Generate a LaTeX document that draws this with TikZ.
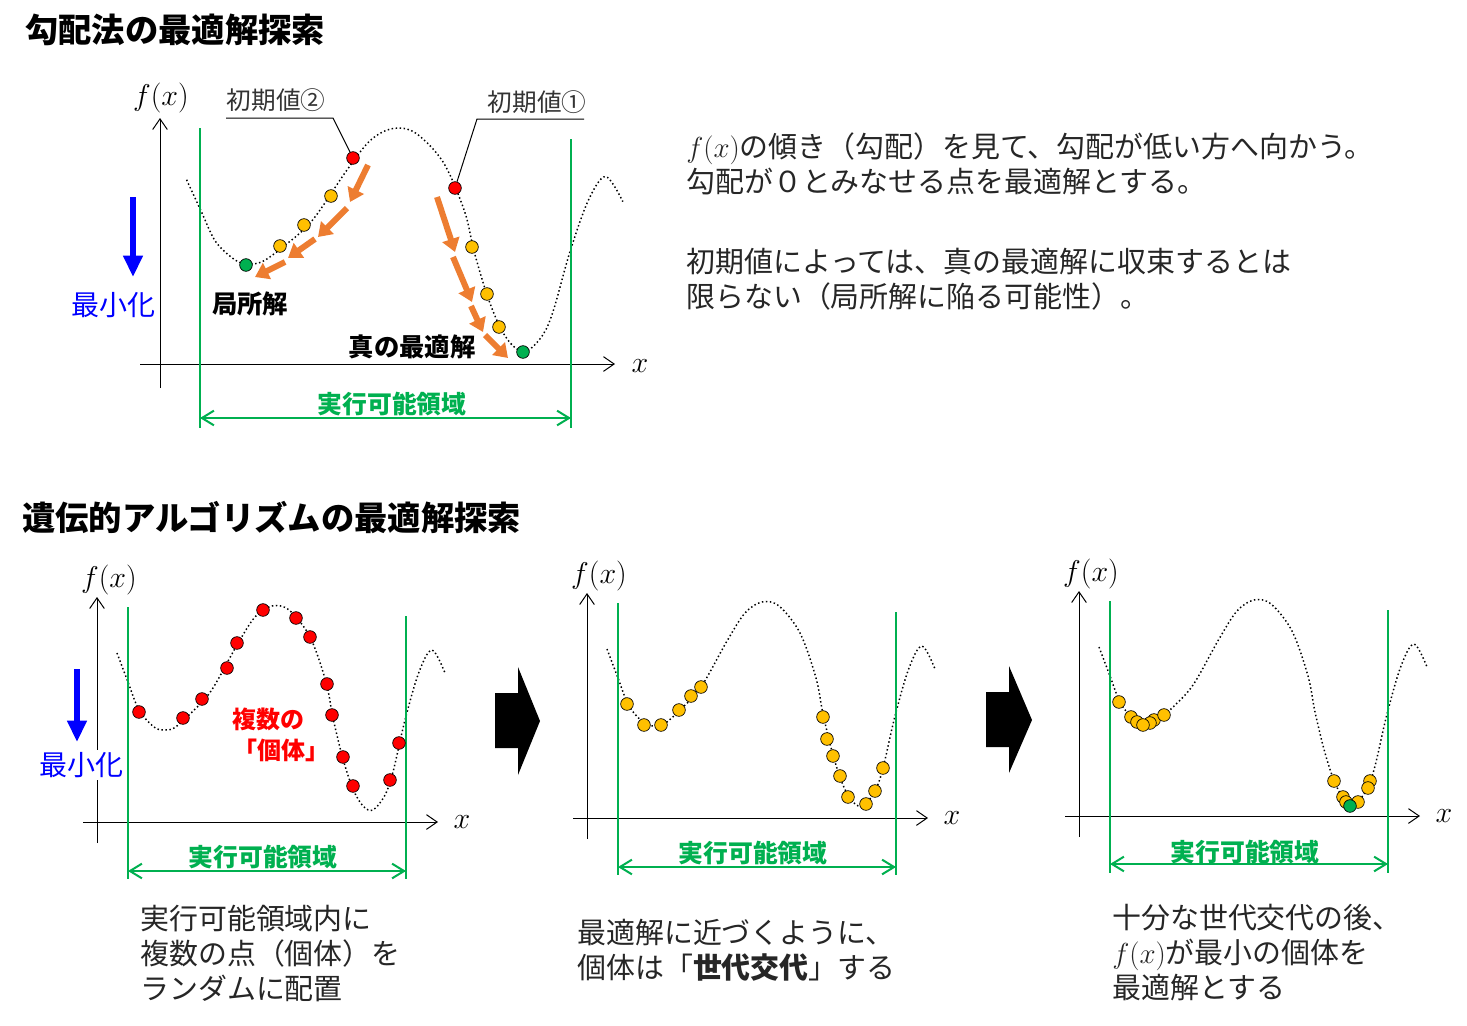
\RequirePackage{fix-cm}
\documentclass[tikz,border=0pt]{standalone}
\usepackage{fontspec}
\newfontfamily\jp{Noto Sans CJK JP}
\usetikzlibrary{arrows.meta}

\definecolor{okgreen}{HTML}{00B050}
\definecolor{stepor}{HTML}{ED7D31}
\definecolor{dotyellow}{HTML}{FFC000}

\def\dotsize{9.5pt}
\tikzstyle{ptdot} = [circle, draw=black, line width=0.5pt, inner sep=0pt, minimum size=\dotsize]
\tikzstyle{startdot} = [ptdot, fill=red]
\tikzstyle{movedot} = [ptdot, fill=dotyellow]
\tikzstyle{bestdot} = [ptdot, fill=okgreen]
\tikzstyle{axisline} = [line width=0.75pt, -{Straight Barb[length=8pt,width=11pt]}]
\tikzstyle{boundline} = [okgreen, line width=1.5pt]
\tikzstyle{spanarrow} = [okgreen, line width=1.5pt,
{Straight Barb[length=9pt,width=11pt]}-{Straight Barb[length=9pt,width=11pt]}]
\tikzstyle{fcurve} = [line width=1.1pt, dash pattern=on 1.1pt off 1.9pt]
\tikzstyle{stepdown} = [stepor, line width=4.5pt, -{Triangle[length=10pt,width=13pt]}]
\tikzstyle{minarrow} = [blue, line width=4.5pt, -{Triangle[length=16pt,width=14pt]}]
\tikzstyle{headline} = [font=\jp\bfseries\fontsize{25pt}{29pt}\selectfont, anchor=west, inner sep=0pt]
\tikzstyle{spanlbl} = [okgreen, font=\jp\bfseries\fontsize{18.6pt}{20pt}\selectfont]
\tikzstyle{boldlbl} = [font=\jp\bfseries\fontsize{19pt}{21pt}\selectfont]
\tikzstyle{redlbl} = [red, font=\jp\bfseries\fontsize{18pt}{21pt}\selectfont]
\tikzstyle{initlbl} = [text=black!80, font=\jp\fontsize{18.5pt}{21pt}\selectfont]
\tikzstyle{minlbl} = [blue, fill=white, inner sep=1.5pt, font=\jp\fontsize{21pt}{24pt}\selectfont]
\tikzstyle{mathlbl} = [font=\fontsize{22.5pt}{24pt}\selectfont]
\tikzstyle{notetext} = [text=black!85, align=left, anchor=west, inner sep=0pt,
font=\jp\fontsize{21.7pt}{26.25pt}\selectfont]
\tikzstyle{leader} = [line width=0.75pt]

% f(x), local to the origin of a panel
\def\costcurve{plot[smooth, tension=0.55] coordinates {(20,-169) (31,-140) (42,-112)
(57,-95) (67,-92) (77,-94) (92,-107) (114,-131) (140,-177) (158,-205) (175,-216)
(192,-212) (213,-185) (229,-140) (236,-104) (246,-63) (256,-33) (266,-16) (276,-12)
(288,-27) (296,-50) (308,-102) (322,-150) (335,-172) (348,-149)}}

\begin{document}
\begin{tikzpicture}[x=0.75pt, y=-0.75pt]
    \fill[white] (0,0) rectangle (1467,1025);
    \useasboundingbox (0,0) rectangle (1467,1025);
    %%%%%%%%%%%%%%%%%%%%%%%%%%%%%%%%%%%%%%%%
    % Gradient method
    %%%%%%%%%%%%%%%%%%%%%%%%%%%%%%%%%%%%%%%%
    \node (gtitle) [headline] at (25,30) {勾配法の最適解探索};
    \draw[axisline] (160,388) -- (160,118);
    \draw[axisline] (140,364) -- (615,364);
    \node (gfx) [mathlbl] at (161,98) {$f(x)$};
    \node (gx) [mathlbl] at (640,366) {$x$};
    \begin{scope}[shift={(160,364)}, xscale=1.33, yscale=1.09]
        \draw[fcurve] \costcurve;
    \end{scope}
    \draw[boundline] (200,128) -- (200,428);
    \draw[boundline] (571,139) -- (571,428);
    \coordinate (gL) at (200,418);
    \coordinate (gR) at (571,418);
    \draw[spanarrow] (gL) -- (gR);
    \node (gspan) [spanlbl] at (392,404) {実行可能領域};
    \node (gmin) [minlbl] at (113,305) {最小化};
    \coordinate (gmintop) at (133,197);
    \coordinate (gminbot) at (133,277);
    \draw[minarrow] (gmintop) -- (gminbot);
    % start 2 -> local solution
    \node (g2) [startdot] at (353,158) {};
    \node (g2a) [movedot] at (331,196) {};
    \node (g2b) [movedot] at (304,225) {};
    \node (g2c) [movedot] at (280,246) {};
    \node (g2d) [bestdot] at (246,265) {};
    % start 1 -> true solution
    \node (g1) [startdot] at (455,188) {};
    \node (g1a) [movedot] at (472,247) {};
    \node (g1b) [movedot] at (487,294) {};
    \node (g1c) [movedot] at (499,327) {};
    \node (g1d) [bestdot] at (523,352) {};
    \coordinate (s1) at (368,165); \coordinate (e1) at (350,202);
    \coordinate (s2) at (347,208); \coordinate (e2) at (318,237);
    \coordinate (s3) at (315,239); \coordinate (e3) at (288,258);
    \coordinate (s4) at (285,262); \coordinate (e4) at (255,277);
    \coordinate (s5) at (437,197); \coordinate (e5) at (455,252);
    \coordinate (s6) at (453,257); \coordinate (e6) at (472,302);
    \coordinate (s7) at (471,306); \coordinate (e7) at (483,332);
    \coordinate (s8) at (485,335); \coordinate (e8) at (508,358);
    \draw[stepdown] (s1) -- (e1);
    \draw[stepdown] (s2) -- (e2);
    \draw[stepdown] (s3) -- (e3);
    \draw[stepdown] (s4) -- (e4);
    \draw[stepdown] (s5) -- (e5);
    \draw[stepdown] (s6) -- (e6);
    \draw[stepdown] (s7) -- (e7);
    \draw[stepdown] (s8) -- (e8);
    \node (init2) [initlbl] at (276,100) {初期値②};
    \node (init1) [initlbl] at (537,102) {初期値①};
    \coordinate (u2a) at (226,118); \coordinate (u2b) at (333,118);
    \coordinate (u1a) at (477,119); \coordinate (u1b) at (584,119);
    \draw[leader] (u2a) -- (u2b) -- (g2);
    \draw[leader] (g1) -- (u1a) -- (u1b);
    \node (glocal) [boldlbl] at (250,304) {局所解};
    \node (gbest) [boldlbl] at (412,347) {真の最適解};
    \node (gnote1) [notetext] at (686,164) {$f(x)$の傾き（勾配）を見て、勾配が低い方へ向かう。\\勾配が０とみなせる点を最適解とする。};
    \node (gnote2) [notetext] at (686,279) {初期値によっては、真の最適解に収束するとは\\限らない（局所解に陥る可能性）。};
    %%%%%%%%%%%%%%%%%%%%%%%%%%%%%%%%%%%%%%%%
    % Genetic algorithm
    %%%%%%%%%%%%%%%%%%%%%%%%%%%%%%%%%%%%%%%%
    \node (gatitle) [headline] at (22,517) {遺伝的アルゴリズムの最適解探索};
    % first generation
    \begin{scope}[shift={(97,822)}]
        \draw[axisline] (0,21) -- (0,-225);
        \draw[axisline] (-14,0) -- (341,0);
        \node (fx1) [mathlbl] at (12,-242) {$f(x)$};
        \node (x1) [mathlbl] at (365,0) {$x$};
        \draw[fcurve] \costcurve;
        \draw[boundline] (31,-215) -- (31,57);
        \draw[boundline] (309,-206) -- (309,57);
        \coordinate (L1) at (31,49);
        \coordinate (R1) at (309,49);
        \draw[spanarrow] (L1) -- (R1);
        \node (span1) [spanlbl] at (166,35) {実行可能領域};
    \end{scope}
    \node (min1) [minlbl] at (81,765) {最小化};
    \coordinate (min1top) at (77,669);
    \coordinate (min1bot) at (77,742);
    \draw[minarrow] (min1top) -- (min1bot);
    \node (p1a) [startdot] at (139,712) {};
    \node (p1b) [startdot] at (183,718) {};
    \node (p1c) [startdot] at (202,699) {};
    \node (p1d) [startdot] at (227,668) {};
    \node (p1e) [startdot] at (237,643) {};
    \node (p1f) [startdot] at (263,610) {};
    \node (p1g) [startdot] at (296,618) {};
    \node (p1h) [startdot] at (310,637) {};
    \node (p1i) [startdot] at (327,684) {};
    \node (p1j) [startdot] at (332,715) {};
    \node (p1k) [startdot] at (343,757) {};
    \node (p1l) [startdot] at (353,786) {};
    \node (p1m) [startdot] at (390,780) {};
    \node (p1n) [startdot] at (399,743) {};
    \node (many) [redlbl] at (268,719) {複数の};
    \node (indiv) [redlbl] at (281,750) {「個体」};
    \node (cap1) [notetext] at (140,953) {実行可能領域内に\\複数の点（個体）を\\ランダムに配置};
    \fill (495,693) -- (518,693) -- (518,667) -- (540,721) -- (518,775) -- (518,748) -- (495,748) -- cycle;
    % after some generations
    \begin{scope}[shift={(587,818)}]
        \draw[axisline] (0,21) -- (0,-225);
        \draw[axisline] (-14,0) -- (341,0);
        \node (fx2) [mathlbl] at (12,-242) {$f(x)$};
        \node (x2) [mathlbl] at (365,0) {$x$};
        \draw[fcurve] \costcurve;
        \draw[boundline] (31,-215) -- (31,57);
        \draw[boundline] (309,-206) -- (309,57);
        \coordinate (L2) at (31,49);
        \coordinate (R2) at (309,49);
        \draw[spanarrow] (L2) -- (R2);
        \node (span2) [spanlbl] at (166,35) {実行可能領域};
    \end{scope}
    \node (p2a) [movedot] at (627,704) {};
    \node (p2b) [movedot] at (644,725) {};
    \node (p2c) [movedot] at (661,725) {};
    \node (p2d) [movedot] at (679,710) {};
    \node (p2e) [movedot] at (691,696) {};
    \node (p2f) [movedot] at (701,687) {};
    \node (p2g) [movedot] at (823,717) {};
    \node (p2h) [movedot] at (827,739) {};
    \node (p2i) [movedot] at (833,756) {};
    \node (p2j) [movedot] at (840,776) {};
    \node (p2k) [movedot] at (848,797) {};
    \node (p2l) [movedot] at (866,804) {};
    \node (p2m) [movedot] at (875,791) {};
    \node (p2n) [movedot] at (883,768) {};
    \node (cap2) [notetext] at (577,950) {最適解に近づくように、\\個体は「{\bfseries 世代交代}」する};
    \fill (986,692) -- (1009,692) -- (1009,666) -- (1032,720) -- (1009,773) -- (1009,747) -- (986,747) -- cycle;
    % final generation
    \begin{scope}[shift={(1079,816)}]
        \draw[axisline] (0,21) -- (0,-225);
        \draw[axisline] (-14,0) -- (341,0);
        \node (fx3) [mathlbl] at (12,-242) {$f(x)$};
        \node (x3) [mathlbl] at (365,0) {$x$};
        \draw[fcurve] \costcurve;
        \draw[boundline] (31,-215) -- (31,57);
        \draw[boundline] (309,-206) -- (309,57);
        \coordinate (L3) at (31,48);
        \coordinate (R3) at (309,48);
        \draw[spanarrow] (L3) -- (R3);
        \node (span3) [spanlbl] at (166,36) {実行可能領域};
    \end{scope}
    \node (p3a) [movedot] at (1119,702) {};
    \node (p3b) [movedot] at (1131,717) {};
    \node (p3c) [movedot] at (1137,722) {};
    \node (p3d) [movedot] at (1154,720) {};
    \node (p3e) [movedot] at (1150,723) {};
    \node (p3f) [movedot] at (1143,725) {};
    \node (p3g) [movedot] at (1164,715) {};
    \node (p3h) [movedot] at (1334,781) {};
    \node (p3i) [movedot] at (1370,781) {};
    \node (p3j) [movedot] at (1368,788) {};
    \node (p3k) [movedot] at (1343,797) {};
    \node (p3l) [movedot] at (1358,802) {};
    \node (p3m) [movedot] at (1346,802) {};
    \node (p3best) [bestdot] at (1350,806) {};
    \node (cap3) [notetext] at (1112,953) {十分な世代交代の後、\\$f(x)$が最小の個体を\\最適解とする};
\end{tikzpicture}
\end{document}
